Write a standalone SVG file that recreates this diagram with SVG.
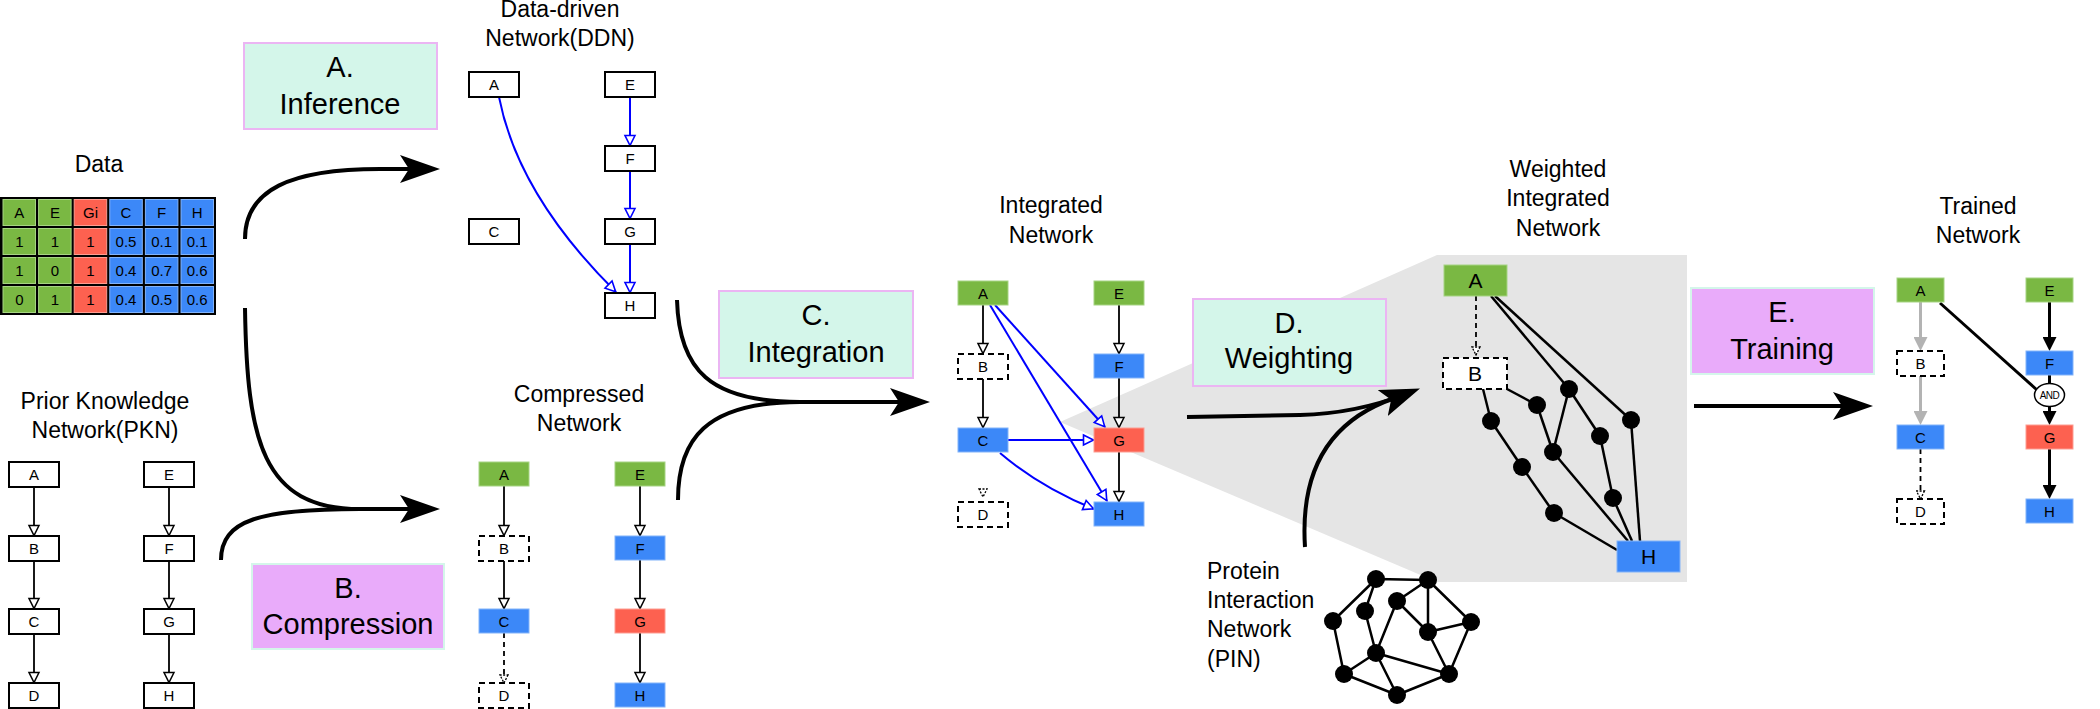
<svg xmlns="http://www.w3.org/2000/svg" width="2100" height="709" viewBox="0 0 2100 709">
<style>
text{font-family:"Liberation Sans",Arial,sans-serif;fill:#000}
.title{font-size:23px;text-anchor:middle}
.proc{font-size:29px;text-anchor:middle}
.nl{font-size:15px;text-anchor:middle}
.wl{font-size:21px;text-anchor:middle}
.pin{font-size:23px}
.box{fill:#fff;stroke:#000;stroke-width:2}
.dbox{fill:#fff;stroke:#000;stroke-width:2;stroke-dasharray:6 4}
.g{fill:#7ab843;stroke:#a6d483;stroke-width:1}
.b{fill:#3c88f8;stroke:#82b3fa;stroke-width:1}
.r{fill:#fd6150;stroke:#fd9d92;stroke-width:1}
.mint{fill:#d4f6ea;stroke:#ebb5f3;stroke-width:2}
.vio{fill:#e9abfa;stroke:#d4f6ea;stroke-width:2}
.k{stroke:#000;stroke-width:1.8;fill:none}
.kd{stroke:#000;stroke-width:1.8;fill:none;stroke-dasharray:5 4}
.bl{stroke:#0000ff;stroke-width:2;fill:none}
.big{stroke:#000;stroke-width:4;fill:none}
.e{stroke:#000;stroke-width:2.5;fill:none}
.tk{stroke:#000;stroke-width:3;fill:none}
.tg{stroke:#b3b3b3;stroke-width:3;fill:none}
.dot{fill:#000}
.cell{font-size:15px;text-anchor:middle}
</style>
<defs>
<marker id="mOpen" viewBox="0 0 14 14" refX="12.5" refY="7" markerWidth="14" markerHeight="14" markerUnits="userSpaceOnUse" orient="auto"><path d="M2,2 L12,7 L2,12 Z" fill="#fff" stroke="#000" stroke-width="1.5"/></marker>
<marker id="mOpenB" viewBox="0 0 14 14" refX="12.5" refY="7" markerWidth="14" markerHeight="14" markerUnits="userSpaceOnUse" orient="auto"><path d="M2,2 L12,7 L2,12 Z" fill="#fff" stroke="#0000ff" stroke-width="1.6"/></marker>
<marker id="mDash" viewBox="0 0 10 10" refX="9" refY="5" markerWidth="10" markerHeight="10" markerUnits="userSpaceOnUse" orient="auto"><path d="M1,1 L9,5 L1,9 Z" fill="#fff" stroke="#000" stroke-width="1.3" stroke-dasharray="2 1.5"/></marker>
<marker id="mFillK" viewBox="0 0 14 14" refX="9" refY="7" markerWidth="14" markerHeight="14" markerUnits="userSpaceOnUse" orient="auto"><path d="M0,0 L14,7 L0,14 Z" fill="#000"/></marker>
<marker id="mFillG" viewBox="0 0 14 14" refX="9" refY="7" markerWidth="14" markerHeight="14" markerUnits="userSpaceOnUse" orient="auto"><path d="M0,0 L14,7 L0,14 Z" fill="#b3b3b3"/></marker>
<marker id="mBig" viewBox="0 0 40 28" refX="25" refY="14" markerWidth="40" markerHeight="28" markerUnits="userSpaceOnUse" orient="auto"><path d="M0,0 L40,14 L0,28 L9,14 Z" fill="#000"/></marker>
</defs>

<!-- grey focus region -->
<polygon id="focus" points="1060,422 1437,255 1687,255 1687,582 1437,582" fill="#e5e5e5"/>

<!-- Data table -->
<g id="data">
<text class="title" x="99" y="172">Data</text>
<rect x="0" y="197" width="216" height="118" fill="#000"/>
<g class="cells">
<rect class="g" x="3" y="199.5" width="32.5" height="26"/><rect class="g" x="38.6" y="199.5" width="32.5" height="26"/><rect class="r" x="74.2" y="199.5" width="32.5" height="26"/><rect class="b" x="109.8" y="199.5" width="32.5" height="26"/><rect class="b" x="145.4" y="199.5" width="32.5" height="26"/><rect class="b" x="181" y="199.5" width="32.5" height="26"/>
<rect class="g" x="3" y="228.5" width="32.5" height="26"/><rect class="g" x="38.6" y="228.5" width="32.5" height="26"/><rect class="r" x="74.2" y="228.5" width="32.5" height="26"/><rect class="b" x="109.8" y="228.5" width="32.5" height="26"/><rect class="b" x="145.4" y="228.5" width="32.5" height="26"/><rect class="b" x="181" y="228.5" width="32.5" height="26"/>
<rect class="g" x="3" y="257.5" width="32.5" height="26"/><rect class="g" x="38.6" y="257.5" width="32.5" height="26"/><rect class="r" x="74.2" y="257.5" width="32.5" height="26"/><rect class="b" x="109.8" y="257.5" width="32.5" height="26"/><rect class="b" x="145.4" y="257.5" width="32.5" height="26"/><rect class="b" x="181" y="257.5" width="32.5" height="26"/>
<rect class="g" x="3" y="286.5" width="32.5" height="26"/><rect class="g" x="38.6" y="286.5" width="32.5" height="26"/><rect class="r" x="74.2" y="286.5" width="32.5" height="26"/><rect class="b" x="109.8" y="286.5" width="32.5" height="26"/><rect class="b" x="145.4" y="286.5" width="32.5" height="26"/><rect class="b" x="181" y="286.5" width="32.5" height="26"/>
</g>
<text class="cell" x="19.3" y="218">A</text><text class="cell" x="54.9" y="218">E</text><text class="cell" x="90.5" y="218">Gi</text><text class="cell" x="126" y="218">C</text><text class="cell" x="161.6" y="218">F</text><text class="cell" x="197.2" y="218">H</text>
<text class="cell" x="19.3" y="247">1</text><text class="cell" x="54.9" y="247">1</text><text class="cell" x="90.5" y="247">1</text><text class="cell" x="126" y="247">0.5</text><text class="cell" x="161.6" y="247">0.1</text><text class="cell" x="197.2" y="247">0.1</text>
<text class="cell" x="19.3" y="276">1</text><text class="cell" x="54.9" y="276">0</text><text class="cell" x="90.5" y="276">1</text><text class="cell" x="126" y="276">0.4</text><text class="cell" x="161.6" y="276">0.7</text><text class="cell" x="197.2" y="276">0.6</text>
<text class="cell" x="19.3" y="305">0</text><text class="cell" x="54.9" y="305">1</text><text class="cell" x="90.5" y="305">1</text><text class="cell" x="126" y="305">0.4</text><text class="cell" x="161.6" y="305">0.5</text><text class="cell" x="197.2" y="305">0.6</text>
</g>

<!-- Process labels -->
<g id="step-a"><rect class="mint" x="244" y="43" width="193" height="86"/><text class="proc" x="340" y="77">A.</text><text class="proc" x="340" y="114">Inference</text></g>
<g id="step-b"><rect class="vio" x="252" y="564" width="192" height="85"/><text class="proc" x="348" y="598">B.</text><text class="proc" x="348" y="634">Compression</text></g>
<g id="step-c"><rect class="mint" x="719" y="291" width="194" height="87"/><text class="proc" x="816" y="325">C.</text><text class="proc" x="816" y="362">Integration</text></g>
<g id="step-d"><rect class="mint" x="1193" y="299" width="193" height="87"/><text class="proc" x="1289" y="333">D.</text><text class="proc" x="1289" y="368">Weighting</text></g>
<g id="step-e"><rect class="vio" x="1691" y="288" width="183" height="86"/><text class="proc" x="1782" y="322">E.</text><text class="proc" x="1782" y="359">Training</text></g>

<!-- Titles -->
<g id="titles">
<text class="title" x="105" y="409">Prior Knowledge</text><text class="title" x="105" y="438">Network(PKN)</text>
<text class="title" x="560" y="17">Data-driven</text><text class="title" x="560" y="46">Network(DDN)</text>
<text class="title" x="579" y="402">Compressed</text><text class="title" x="579" y="431">Network</text>
<text class="title" x="1051" y="213">Integrated</text><text class="title" x="1051" y="243">Network</text>
<text class="title" x="1558" y="177">Weighted</text><text class="title" x="1558" y="206">Integrated</text><text class="title" x="1558" y="236">Network</text>
<text class="title" x="1978" y="214">Trained</text><text class="title" x="1978" y="243">Network</text>
<text class="pin" x="1207" y="579">Protein</text><text class="pin" x="1207" y="608">Interaction</text><text class="pin" x="1207" y="637">Network</text><text class="pin" x="1207" y="667">(PIN)</text>
</g>

<!-- Connectors -->
<g id="connectors">
<!-- big process arrows -->
<path class="big" d="M245,239 C245,190 290,169 380,169 L425,169" marker-end="url(#mBig)"/>
<path class="big" d="M245,308 C247,440 262,509 360,509 L425,509" marker-end="url(#mBig)"/>
<path class="big" d="M221,560 C221,520 260,509 360,509"/>
<path class="big" d="M677,300 C679,370 710,402 800,402 L915,402" marker-end="url(#mBig)"/>
<path class="big" d="M678,500 C678,440 705,402 800,402"/>
<path class="big" d="M1187,417 L1300,415 C1340,414 1375,406 1406,394" marker-end="url(#mBig)"/>
<path class="big" d="M1305,547 C1300,470 1330,420 1395,398"/>
<path class="big" d="M1694,406 L1858,406" marker-end="url(#mBig)"/>
<!-- PKN -->
<path class="k" d="M34,487 V536" marker-end="url(#mOpen)"/>
<path class="k" d="M34,561 V609" marker-end="url(#mOpen)"/>
<path class="k" d="M34,634 V683" marker-end="url(#mOpen)"/>
<path class="k" d="M169,487 V536" marker-end="url(#mOpen)"/>
<path class="k" d="M169,561 V609" marker-end="url(#mOpen)"/>
<path class="k" d="M169,634 V683" marker-end="url(#mOpen)"/>
<!-- DDN -->
<path class="bl" d="M630,97 V146" marker-end="url(#mOpenB)"/>
<path class="bl" d="M630,171 V219" marker-end="url(#mOpenB)"/>
<path class="bl" d="M630,244 V293" marker-end="url(#mOpenB)"/>
<path class="bl" d="M499,97 Q518,195 616,292" marker-end="url(#mOpenB)"/>
<!-- Compressed -->
<path class="k" d="M504,486 V536" marker-end="url(#mOpen)"/>
<path class="k" d="M504,561 V609" marker-end="url(#mOpen)"/>
<path class="kd" d="M504,633 V683" marker-end="url(#mDash)"/>
<path class="k" d="M640,486 V536" marker-end="url(#mOpen)"/>
<path class="k" d="M640,560 V609" marker-end="url(#mOpen)"/>
<path class="k" d="M640,633 V683" marker-end="url(#mOpen)"/>
<!-- Integrated -->
<path class="k" d="M983,305 V354" marker-end="url(#mOpen)"/>
<path class="k" d="M983,379 V428" marker-end="url(#mOpen)"/>
<polygon points="979,489 987,489 983,497" fill="#fff" stroke="#000" stroke-width="1.3" stroke-dasharray="2 1.5"/>
<path class="k" d="M1119,305 V354" marker-end="url(#mOpen)"/>
<path class="k" d="M1119,378 V428" marker-end="url(#mOpen)"/>
<path class="k" d="M1119,452 V502" marker-end="url(#mOpen)"/>
<path class="bl" d="M995,305 L1105,427" marker-end="url(#mOpenB)"/>
<path class="bl" d="M990,305 L1107,501" marker-end="url(#mOpenB)"/>
<path class="bl" d="M1008,440 L1094,440" marker-end="url(#mOpenB)"/>
<path class="bl" d="M1000,453 Q1040,487 1094,509" marker-end="url(#mOpenB)"/>
<!-- Weighted -->
<path class="kd" d="M1476,296 V355" marker-end="url(#mDash)"/>
<path class="e" d="M1491,296 L1569,389"/>
<path class="e" d="M1495,296 L1631,420"/>
<path class="e" d="M1483,389 L1491,421"/>
<path class="e" d="M1507,389 L1537,405"/>
<path class="e" d="M1537,405 L1553,452"/>
<path class="e" d="M1569,389 L1553,452"/>
<path class="e" d="M1569,389 L1600,436"/>
<path class="e" d="M1600,436 L1613,498"/>
<path class="e" d="M1491,421 L1522,467"/>
<path class="e" d="M1522,467 L1554,513"/>
<path class="e" d="M1631,420 L1640,541"/>
<path class="e" d="M1613,498 L1632,541"/>
<path class="e" d="M1553,452 L1628,541"/>
<path class="e" d="M1554,513 L1617,550"/>
<!-- PIN -->
<path class="e" d="M1376,579 L1428,580 M1376,579 L1333,621 M1376,579 L1365,611 M1428,580 L1397,601 M1428,580 L1428,632 M1428,580 L1471,622 M1397,601 L1428,632 M1397,601 L1376,653 M1365,611 L1376,653 M1333,621 L1344,674 M1344,674 L1376,653 M1344,674 L1397,695 M1376,653 L1397,695 M1376,653 L1449,674 M1428,632 L1449,674 M1471,622 L1428,632 M1471,622 L1449,674 M1449,674 L1397,695"/>
<!-- Trained -->
<path class="tg" d="M1920.5,302 V346" marker-end="url(#mFillG)"/>
<path class="tg" d="M1920.5,376 V420" marker-end="url(#mFillG)"/>
<path class="kd" d="M1920.5,449 V499" marker-end="url(#mDash)"/>
<path class="tk" d="M2049.5,302 V346" marker-end="url(#mFillK)"/>
<path class="tk" d="M2049.5,375 V384"/>
<path class="tk" d="M2049.5,407 V420" marker-end="url(#mFillK)"/>
<path class="tk" d="M2049.5,449 V494" marker-end="url(#mFillK)"/>
<path class="tk" d="M1940,303 L2037,390"/>
</g>

<!-- PKN nodes -->
<g id="pkn-A"><rect class="box" x="9" y="462" width="50" height="25"/><text class="nl" x="34" y="480">A</text></g>
<g id="pkn-B"><rect class="box" x="9" y="536" width="50" height="25"/><text class="nl" x="34" y="554">B</text></g>
<g id="pkn-C"><rect class="box" x="9" y="609" width="50" height="25"/><text class="nl" x="34" y="627">C</text></g>
<g id="pkn-D"><rect class="box" x="9" y="683" width="50" height="25"/><text class="nl" x="34" y="701">D</text></g>
<g id="pkn-E"><rect class="box" x="144" y="462" width="50" height="25"/><text class="nl" x="169" y="480">E</text></g>
<g id="pkn-F"><rect class="box" x="144" y="536" width="50" height="25"/><text class="nl" x="169" y="554">F</text></g>
<g id="pkn-G"><rect class="box" x="144" y="609" width="50" height="25"/><text class="nl" x="169" y="627">G</text></g>
<g id="pkn-H"><rect class="box" x="144" y="683" width="50" height="25"/><text class="nl" x="169" y="701">H</text></g>

<!-- DDN nodes -->
<g id="ddn-A"><rect class="box" x="469" y="72" width="50" height="25"/><text class="nl" x="494" y="90">A</text></g>
<g id="ddn-C"><rect class="box" x="469" y="219" width="50" height="25"/><text class="nl" x="494" y="237">C</text></g>
<g id="ddn-E"><rect class="box" x="605" y="72" width="50" height="25"/><text class="nl" x="630" y="90">E</text></g>
<g id="ddn-F"><rect class="box" x="605" y="146" width="50" height="25"/><text class="nl" x="630" y="164">F</text></g>
<g id="ddn-G"><rect class="box" x="605" y="219" width="50" height="25"/><text class="nl" x="630" y="237">G</text></g>
<g id="ddn-H"><rect class="box" x="605" y="293" width="50" height="25"/><text class="nl" x="630" y="311">H</text></g>

<!-- Compressed nodes -->
<g id="cmp-A"><rect class="g" x="479" y="462" width="50" height="24"/><text class="nl" x="504" y="480">A</text></g>
<g id="cmp-B"><rect class="dbox" x="479" y="536" width="50" height="25"/><text class="nl" x="504" y="554">B</text></g>
<g id="cmp-C"><rect class="b" x="479" y="609" width="50" height="24"/><text class="nl" x="504" y="627">C</text></g>
<g id="cmp-D"><rect class="dbox" x="479" y="683" width="50" height="25"/><text class="nl" x="504" y="701">D</text></g>
<g id="cmp-E"><rect class="g" x="615" y="462" width="50" height="24"/><text class="nl" x="640" y="480">E</text></g>
<g id="cmp-F"><rect class="b" x="615" y="536" width="50" height="24"/><text class="nl" x="640" y="554">F</text></g>
<g id="cmp-G"><rect class="r" x="615" y="609" width="50" height="24"/><text class="nl" x="640" y="627">G</text></g>
<g id="cmp-H"><rect class="b" x="615" y="683" width="50" height="24"/><text class="nl" x="640" y="701">H</text></g>

<!-- Integrated nodes -->
<g id="int-A"><rect class="g" x="958" y="281" width="50" height="24"/><text class="nl" x="983" y="299">A</text></g>
<g id="int-B"><rect class="dbox" x="958" y="354" width="50" height="25"/><text class="nl" x="983" y="372">B</text></g>
<g id="int-C"><rect class="b" x="958" y="428" width="50" height="24"/><text class="nl" x="983" y="446">C</text></g>
<g id="int-D"><rect class="dbox" x="958" y="502" width="50" height="25"/><text class="nl" x="983" y="520">D</text></g>
<g id="int-E"><rect class="g" x="1094" y="281" width="50" height="24"/><text class="nl" x="1119" y="299">E</text></g>
<g id="int-F"><rect class="b" x="1094" y="354" width="50" height="24"/><text class="nl" x="1119" y="372">F</text></g>
<g id="int-G"><rect class="r" x="1094" y="428" width="50" height="24"/><text class="nl" x="1119" y="446">G</text></g>
<g id="int-H"><rect class="b" x="1094" y="502" width="50" height="24"/><text class="nl" x="1119" y="520">H</text></g>

<!-- Weighted nodes -->
<g id="w-A"><rect class="g" x="1444" y="265" width="63" height="31"/><text class="wl" x="1475.5" y="288">A</text></g>
<g id="w-B"><rect class="dbox" x="1443" y="358" width="64" height="31"/><text class="wl" x="1475" y="381">B</text></g>
<g id="w-H"><rect class="b" x="1617" y="541" width="63" height="31"/><text class="wl" x="1648.5" y="564">H</text></g>
<g id="w-dots">
<circle id="w-d1" class="dot" cx="1491" cy="421" r="9"/>
<circle id="w-d2" class="dot" cx="1537" cy="405" r="9"/>
<circle id="w-d3" class="dot" cx="1569" cy="389" r="9"/>
<circle id="w-d4" class="dot" cx="1600" cy="436" r="9"/>
<circle id="w-d5" class="dot" cx="1631" cy="420" r="9"/>
<circle id="w-d6" class="dot" cx="1553" cy="452" r="9"/>
<circle id="w-d7" class="dot" cx="1522" cy="467" r="9"/>
<circle id="w-d8" class="dot" cx="1613" cy="498" r="9"/>
<circle id="w-d9" class="dot" cx="1554" cy="513" r="9"/>
</g>

<!-- PIN nodes -->
<g id="pin-dots">
<circle id="p1" class="dot" cx="1376" cy="579" r="9"/>
<circle id="p2" class="dot" cx="1428" cy="580" r="9"/>
<circle id="p3" class="dot" cx="1397" cy="601" r="9"/>
<circle id="p4" class="dot" cx="1365" cy="611" r="9"/>
<circle id="p5" class="dot" cx="1333" cy="621" r="9"/>
<circle id="p6" class="dot" cx="1471" cy="622" r="9"/>
<circle id="p7" class="dot" cx="1428" cy="632" r="9"/>
<circle id="p8" class="dot" cx="1376" cy="653" r="9"/>
<circle id="p9" class="dot" cx="1344" cy="674" r="9"/>
<circle id="p10" class="dot" cx="1449" cy="674" r="9"/>
<circle id="p11" class="dot" cx="1397" cy="695" r="9"/>
</g>

<!-- Trained nodes -->
<g id="tr-A"><rect class="g" x="1897" y="278" width="47" height="24"/><text class="nl" x="1920.5" y="296">A</text></g>
<g id="tr-B"><rect class="dbox" x="1897" y="351" width="47" height="25"/><text class="nl" x="1920.5" y="369">B</text></g>
<g id="tr-C"><rect class="b" x="1897" y="425" width="47" height="24"/><text class="nl" x="1920.5" y="443">C</text></g>
<g id="tr-D"><rect class="dbox" x="1897" y="499" width="47" height="25"/><text class="nl" x="1920.5" y="517">D</text></g>
<g id="tr-E"><rect class="g" x="2026" y="278" width="47" height="24"/><text class="nl" x="2049.5" y="296">E</text></g>
<g id="tr-F"><rect class="b" x="2026" y="351" width="47" height="24"/><text class="nl" x="2049.5" y="369">F</text></g>
<g id="tr-AND"><ellipse cx="2049.5" cy="395" rx="15" ry="11.5" fill="#fff" stroke="#000" stroke-width="1.5"/><text x="2049.5" y="399" font-size="10" text-anchor="middle" letter-spacing="-0.5">AND</text></g>
<g id="tr-G"><rect class="r" x="2026" y="425" width="47" height="24"/><text class="nl" x="2049.5" y="443">G</text></g>
<g id="tr-H"><rect class="b" x="2026" y="499" width="47" height="24"/><text class="nl" x="2049.5" y="517">H</text></g>
</svg>
